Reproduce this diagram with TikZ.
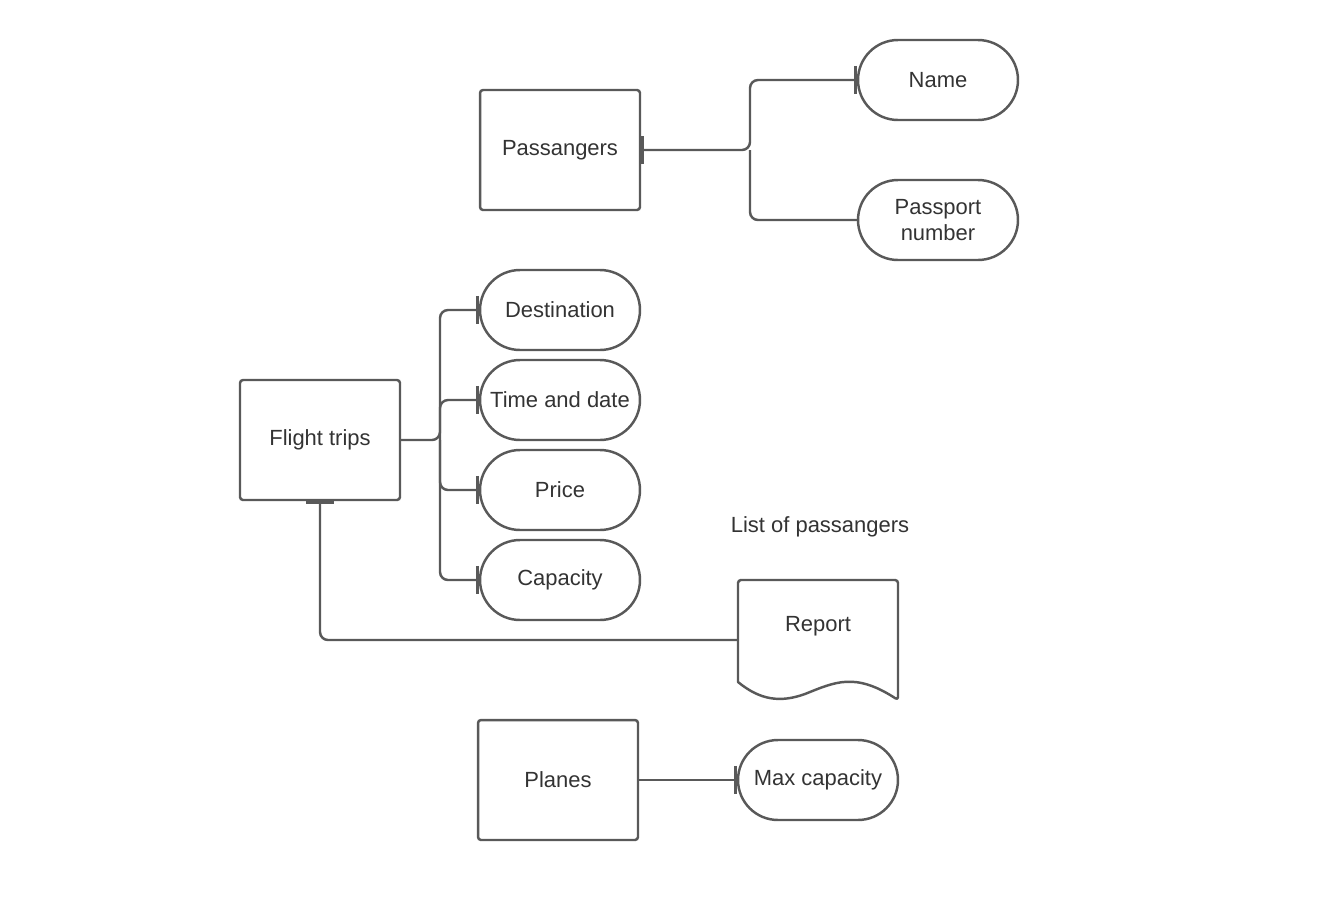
\documentclass[tikz,border=0pt]{standalone}
\usepackage{fontspec}
\setmainfont{Liberation Sans}
\usetikzlibrary{arrows.meta}
\definecolor{linegray}{RGB}{89,89,89}
\definecolor{textgray}{RGB}{51,51,51}
\begin{document}
\begin{tikzpicture}[x=0.02cm, y=-0.02cm]

\tikzstyle{every node} = [font=\fontsize{12.5}{15}\selectfont, text=textgray]
\tikzstyle{entity} = [rectangle, draw=linegray, line width=1.4pt, rounded corners=0.06cm, minimum width=3.2cm, minimum height=2.4cm]
\tikzstyle{attr} = [rectangle, draw=linegray, line width=1.4pt, rounded corners=0.8cm, minimum width=3.2cm, minimum height=1.6cm, align=center]
\tikzstyle{conn} = [draw=linegray, line width=1.4pt, rounded corners=0.16cm]
\tikzstyle{tick} = [{Bar[width=16pt]}-]
\tikzstyle{tock} = [-{Bar[width=16pt]}]

\useasboundingbox (0,0) rectangle (1336,913);

\node[entity] (pass) at (560,150) {Passangers};
\node[attr] (name) at (938,80) {Name};
\node[attr] (passno) at (938,220) {Passport\\number};

\node[entity] (ft) at (320,440) {Flight trips};
\node[attr] (dest) at (560,310) {Destination};
\node[attr] (time) at (560,400) {Time and date};
\node[attr] (price) at (560,490) {Price};
\node[attr] (cap) at (560,580) {Capacity};

\node (list) at (820,527) {List of passangers};
\node[minimum width=3.2cm, minimum height=2.4cm] (report) at (818,640) {};
\node (reptxt) at (818,626) {Report};

\node[entity] (planes) at (558,780) {Planes};
\node[attr] (maxcap) at (818,780) {Max capacity};

\coordinate (pj) at (750,150);
\coordinate (fj) at (440,440);

% report sheet
\draw[draw=linegray, line width=1.4pt, line join=round]
  (738,682) {[rounded corners=0.06cm] -- (738,580) -- (898,580) -- (898,700)}
  .. controls (855,672) and (835,682) .. (805,694)
  .. controls (780,703) and (760,700) .. (738,682) -- cycle;

\draw[conn, {Bar[width=16pt]}-{Bar[width=16pt]}] (pass.east) -- (pj) |- (name.west);
\draw[conn] (pj) |- (passno.west);

\draw[conn, tock] (ft.east) -- (fj) |- (dest.west);
\draw[conn, tock] (fj) |- (time.west);
\draw[conn, tock] (fj) |- (price.west);
\draw[conn, tock] (fj) |- (cap.west);

\draw[conn, tick] (ft.south) |- (report.west);

\draw[conn, tock] (planes.east) -- (maxcap.west);

\end{tikzpicture}
\end{document}
